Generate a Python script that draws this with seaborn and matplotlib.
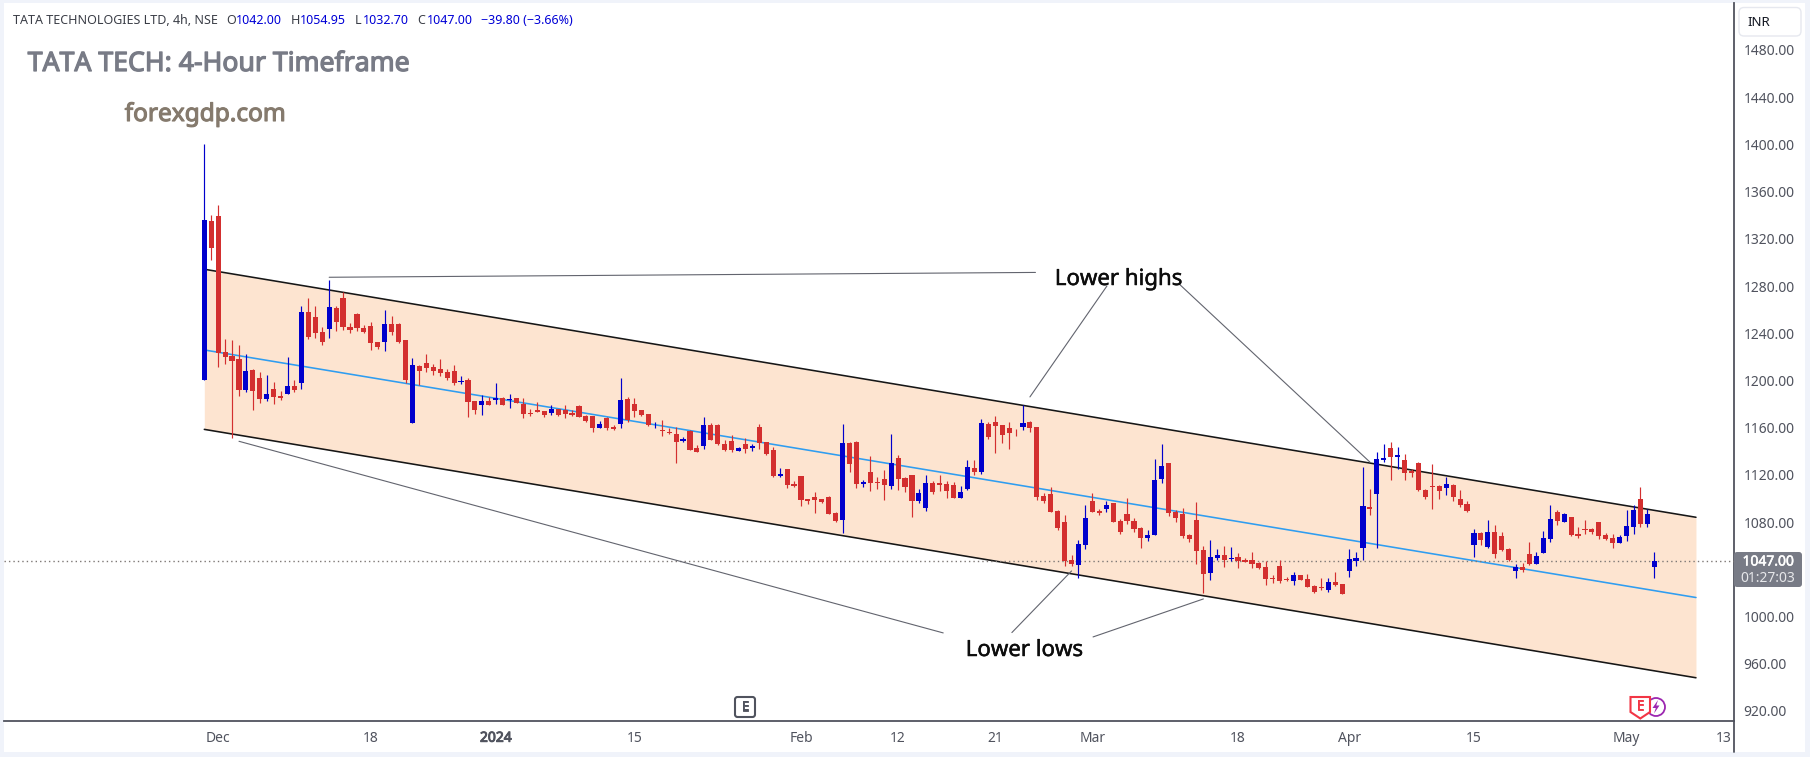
import numpy as np
import pandas as pd
import matplotlib
matplotlib.use("Agg")
import matplotlib.pyplot as plt
import matplotlib.patheffects as pe
import seaborn as sns
from matplotlib.lines import Line2D
from matplotlib.patches import FancyBboxPatch, Rectangle, Polygon, Circle
from matplotlib.transforms import Affine2D

highs = [1400,1340,1349,1235,1234,1230,1222,1210,1207,1204.6,
1198.6,1191,1220,1200,1263,1270,1263,1245,1285,1263,
1275,1248.6,1257,1247,1249.5,1232.5,1259.6,1254.6,1248.6,1234,
1219,1213,1222,1214,1218,1209.6,1213,1203.7,1202,1182.5,
1187.6,1186,1197.8,1186,1188.5,1185,1185,1175.8,1181.7,1174,
1179,1175.8,1179,1175,1179,1170.7,1170,1165.6,1169,1162.2,
1202,1186,1185,1175,1171.5,1164.8,1166.5,1159.7,1160.5,1152,
1158,1145.3,1169,1163.9,1163,1149.5,1153.7,1143.6,1151,1146,
1163,1147.8,1143.6,1125.8,1125,1114.8,1119,1099.5,1105.4,1099.5,
1102,1088.5,1163,1147.8,1148.7,1115.6,1136,1118,1124,1154.6,
1136.8,1118,1119.8,1108,1119.8,1114.8,1119.8,1114.8,1113.9,1110.5,
1132.6,1132.6,1167.3,1164.8,1169.8,1162.2,1164.8,1158.8,1179.2,1165.6,
1160.5,1104.6,1109.7,1090.2,1085.9,1052,1064.8,1094.4,1104.6,1091,
1097.8,1096,1082.6,1100.3,1083.4,1075.8,1073.2,1133.4,1146.1,1130,
1090.2,1091.9,1069.8,1097,1059.7,1064.8,1057,1059.7,1058.8,1053.7,
1049.5,1054.6,1046,1046.9,1035,1047.8,1033.4,1037.6,1035,1035.9,
1026.6,1032.5,1032.5,1037.6,1027.5,1057,1055,1126.6,1108,1139.3,
1146.1,1147.8,1143.6,1137.6,1125,1130.9,1108,1129.2,1111.4,1118.2,
1112.2,1107.2,1097.8,1074,1071.6,1081.7,1077.5,1071.6,1058,1044.4,
1045.3,1063,1054.6,1072.4,1094.4,1090.2,1087.7,1084.3,1075.8,1081.7,
1075,1080,1070.7,1069.9,1069,1090.2,1094.4,1109.7,1091,1054.95]

lows = [1200,1302,1211.3,1214,1151.2,1187,1190,1175,1181,1182.5,
1180,1183,1188.5,1190,1193,1235,1236,1230,1236,1242,
1243,1240,1242,1240,1226,1226.6,1225,1238.5,1231.7,1197.8,
1164,1196,1207,1204.6,1203.7,1200.3,1196,1197,1169,1171.5,
1170.7,1179,1180,1179,1176.6,1181,1168,1170,1173.2,1169,
1170.7,1169.8,1168,1169.8,1169,1164.7,1156.3,1159.7,1158,1158,
1159.7,1164.7,1169,1170,1161.4,1159.7,1152.9,1154.6,1130,1147.8,
1141,1139.3,1141.9,1149.5,1145.3,1140,1139.3,1140,1138.5,1140,
1141.9,1136.8,1118,1118,1108.8,1109.7,1093.6,1095.3,1087.6,1096,
1086.8,1080,1070.7,1122.4,1108.8,1109.7,1106.3,1108,1098.7,1108,
1107,1105.4,1084.2,1096,1089.3,1103.7,1106.3,1100.3,1100.3,1100.3,
1107,1119.8,1120.7,1150.4,1138.5,1147,1141.9,1152.9,1158,1156.3,
1098.7,1096,1088.5,1073.2,1042.7,1042.7,1032.6,1057,1088.5,1085.9,
1088.5,1080,1069.8,1078.3,1071.5,1058,1063.9,1069,1113,1085.1,
1080,1066.4,1063,1044.4,1019.8,1030.8,1047.8,1041.9,1047,1041,
1046,1041,1040.2,1026.6,1028.3,1028.3,1030,1026.6,1030.9,1024.9,
1019.8,1022.4,1020.7,1025.8,1019,1033.4,1042.7,1047.8,1085.9,1058,
1130.9,1115.6,1125,1115.6,1118.2,1106.3,1099.5,1091,1099.5,1103,
1097.8,1092.7,1088.5,1050.4,1060.5,1058,1049.5,1055.5,1047,1032.6,
1037.7,1043.6,1044.4,1053.8,1063,1077.5,1080,1068.2,1066.5,1069.9,
1069.9,1065.6,1064.8,1058,1062.2,1063.9,1069.9,1075.8,1075.8,1032.7]

opens = [1200,1335,1339.3,1224,1220.7,1218,1192,1209,1202,1184,
1192.7,1186.8,1188.5,1195,1198,1258,1254,1241,1243.6,1261,
1270,1245,1256,1244,1246,1232.5,1232.5,1247.8,1247.8,1234,
1164,1212,1215,1211.4,1209.6,1207,1208,1198.6,1200.3,1182.5,
1179,1182.5,1183.4,1185,1183.4,1185,1180,1172,1175,1174,
1172.4,1175.8,1175,1172.4,1178.3,1169.8,1170,1159.7,1168,1160.5,
1163,1184.2,1180,1175,1171.5,1162.8,1158,1156.3,1154.6,1148.7,
1157,1142.7,1144.4,1162.2,1162.2,1146,1148.7,1140,1146,1142.7,
1160.5,1147.8,1141,1119,1125,1112.2,1119,1099.5,1101,1099.5,
1101,1087.6,1081.7,1147,1147.8,1112.2,1122.4,1113.9,1116.5,1110.5,
1134.2,1117.3,1119.8,1097.8,1091.9,1113,1113,1112.2,1111.4,1100.3,
1108,1125.8,1122.4,1163,1164.8,1162.2,1159.7,1157.4,1160.5,1164.8,
1160.5,1102,1103.7,1089.3,1080,1047.8,1043.6,1060.5,1097.8,1089.3,
1091,1096,1080.9,1086.8,1080.9,1074.9,1066.4,1069,1116.5,1130,
1088.5,1086.8,1069,1081.7,1056.3,1036.8,1049.5,1052,1048.4,1050.3,
1047.8,1047.8,1045.3,1041.9,1032.5,1042.7,1031.7,1030,1035,1031.7,
1025.8,1024.9,1022.4,1029.2,1027.5,1038.5,1047,1058,1092.7,1103.7,
1132.6,1142.7,1135.4,1132.6,1123,1130,1107.2,1110.5,1110.5,1108.8,
1111.4,1099.5,1095.3,1060.5,1070.7,1058.8,1071.6,1068.2,1057.2,1038.5,
1041.9,1052.9,1044.4,1053.8,1065.6,1088.5,1080,1084.3,1069.9,1074.1,
1074.1,1080,1069,1066.5,1062.2,1068.2,1075.8,1099.5,1078.3,1042]

closes = [1336,1312.5,1223.5,1220,1216.4,1192,1208,1191,1184,1188.5,
1186,1185,1195,1192,1258,1237,1240,1232.5,1262,1249.5,
1245,1242.7,1244,1241,1232,1228,1247.8,1241,1232.5,1200,
1213,1208,1210.5,1208,1206,1202,1197.8,1199.5,1181.7,1175,
1182.5,1179,1185,1179,1184,1181,1171.5,1171.5,1173.2,1170.7,
1175.8,1170.7,1171.5,1170.7,1169,1165.6,1159.7,1163,1159.7,1158.8,
1183.4,1166.5,1174,1170.7,1162.2,1163.3,1157.4,1155.4,1147.8,1150.4,
1141,1139.3,1162.2,1149.5,1146,1141,1141,1142.7,1141.9,1144.4,
1147,1137.6,1119,1120.7,1111.4,1110.5,1098.7,1097.8,1098.7,1097,
1086.8,1080.9,1147,1129,1112,1113.9,1113,1113.3,1111.4,1130,
1116.5,1109.7,1097.8,1104.6,1113,1105.4,1111.4,1106.3,1100.3,1105.4,
1126.6,1122.4,1163.9,1152,1161.4,1153.7,1155.4,1156.8,1163.9,1159.7,
1101.2,1097.8,1088.5,1074.9,1047,1044.4,1061.4,1083.4,1088.5,1087.6,
1094.4,1080,1071.5,1080.9,1074.1,1066.4,1069,1115.6,1127.5,1087.6,
1083.4,1068.1,1065.6,1055.4,1036,1050.3,1052,1047.8,1049.5,1047,
1046,1044.4,1041,1031.7,1031.7,1030,1030.9,1035,1030.9,1024.9,
1020.7,1024,1029.2,1026.6,1019,1048.7,1049.5,1093.6,1091,1133.4,
1134.2,1135,1136.8,1121.6,1121.8,1107.2,1101.2,1109.7,1106.3,1112.2,
1101.2,1094.4,1089.4,1070.7,1064.8,1071.6,1052.9,1056.3,1047.8,1041.9,
1039.4,1044.4,1051.2,1066.5,1082.6,1080.9,1086.8,1069,1068.2,1073.3,
1071.6,1068.2,1065.6,1062.2,1067.3,1076.6,1090.2,1078.3,1086.8,1047]

# 1040 is hidden behind the last-price tag in the reference
price_ticks = [920, 960, 1000, 1080, 1120, 1160, 1200, 1240, 1280, 1320, 1360, 1400, 1440, 1480]
date_labels = ["Dec", "18", "2024", "15", "Feb", "12", "21", "Mar", "18", "Apr", "15", "May", "13"]
date_index = [2, 24, 42, 62, 86, 100, 114, 128, 149, 165, 183, 205, 219]

channel_index = [0, 215]
channel_upper = [1294.2, 1084]
channel_middle = [1225.8, 1016]
channel_lower = [1158.5, 948]

# (index, price) pairs of the call-out lines
callouts = [((18.0, 119.8), (1287.4, 1291.5)),
            ((130.1, 119.0), (1280, 1186)),
            ((140.4, 168.0), (1282.3, 1130.8)),
            ((5.0, 106.5), (1148.4, 986)),
            ((116.4, 125.0), (986.3, 1038.5)),
            ((128.1, 144.0), (982.6, 1014.8))]
last_price = 1047.0

W, H = 1810, 757
UP, DOWN = "#0000cc", "#d32f2f"
GREY = "#787b86"
AXIS = "#50535e"

sns.set_theme(style="white")
plt.rcParams["font.family"] = ["Noto Sans", "DejaVu Sans"]

fig = plt.figure(figsize=(W / 100, H / 100), dpi=100, facecolor="#f0f3fa")
px = Affine2D().scale(1 / W, -1 / H).translate(0, 1) + fig.transFigure

L, R, T, B = 4, 1734, 3, 721
ax = fig.add_axes([L / W, 1 - B / H, (R - L) / W, (B - T) / H])
fig.add_artist(Rectangle((4, 3), 1801, 749, transform=px, fc="white", ec="none", zorder=-1))

ax.set_xlim((L - 204.3) / 6.938, (R - 204.3) / 6.938)
ax.set_ylim(1480 - (B - 50) / 1.18, 1480 - (T - 50) / 1.18)
ax.set_facecolor("white")
ax.grid(False)

df = pd.DataFrame({"i": np.arange(len(opens)), "o": opens, "h": highs, "l": lows, "c": closes})
df["top"] = df[["o", "c"]].max(axis=1)
df["bot"] = df[["o", "c"]].min(axis=1)
df["col"] = np.where(df["c"] > df["o"], UP, DOWN)

# channel
ax.fill_between(channel_index, channel_lower, channel_upper, color="#fde4d0", lw=0, zorder=1)
chan = pd.DataFrame({"i": channel_index * 3,
                     "p": channel_upper + channel_lower + channel_middle,
                     "k": ["u"] * 2 + ["l"] * 2 + ["m"] * 2})
sns.lineplot(data=chan, x="i", y="p", hue="k", palette={"u": "#161616", "l": "#161616", "m": "#2f9df0"},
             hue_order=["u", "l", "m"], legend=False, lw=1.15, ax=ax, zorder=2, estimator=None)
ax.axhline(last_price, color="#7d7775", lw=1, ls=(0, (1, 2.2)), zorder=3)

# candles
ax.vlines(df["i"], df["l"], df["h"], colors=df["col"], lw=0.85, zorder=4)
ax.bar(df["i"], df["top"] - df["bot"], bottom=df["bot"], width=0.74, color=df["col"], lw=0, zorder=5)

# call-outs
for xs, ys in callouts:
    ax.plot(xs, ys, color="#62646e", lw=0.8, zorder=3)

# axes
ax.set_xlabel("")
ax.set_ylabel("")
ax.yaxis.tick_right()
ax.set_yticks(price_ticks)
ax.set_yticklabels([f"{v:.2f}" for v in price_ticks])
ax.set_xticks(date_index)
ax.set_xticklabels(date_labels)
ax.tick_params(axis="both", length=0, labelcolor=AXIS, labelsize=10)
ax.tick_params(axis="y", pad=7)
ax.tick_params(axis="x", pad=7)
bold_tick = ax.get_xticklabels()[2]
bold_tick.set_path_effects([pe.withStroke(linewidth=0.7, foreground=AXIS)])
for s in ("left", "top"):
    ax.spines[s].set_visible(False)
for s in ("right", "bottom"):
    ax.spines[s].set_color(AXIS)
    ax.spines[s].set_linewidth(1.3)
fig.add_artist(Line2D([1734, 1734], [721, 752], transform=px, color=AXIS, lw=1.3))


def txt(x, y, s, size, color, heavy=0, **kw):
    kw.setdefault("va", "center")
    kw.setdefault("ha", "left")
    t = fig.text(x, y, s, transform=px, fontsize=size, color=color, **kw)
    if heavy:
        t.set_path_effects([pe.withStroke(linewidth=heavy, foreground=color)])
    return t


# legend line
DARK = "#3a3d46"
BLUE = "#0000d6"
txt(13, 21, "TATA TECHNOLOGIES LTD, 4h, NSE", 9.0, DARK)
for x, s in [(226, "O"), (291, "H"), (355, "L"), (417, "C")]:
    txt(x, 21, s, 9.0, DARK)
for x, s in [(236, "1042.00"), (300, "1054.95"), (363, "1032.70"), (427, "1047.00"), (481, "−39.80 (−3.66%)")]:
    txt(x, 21, s, 9.0, BLUE)

# headline texts
txt(27.7, 64, "TATA TECH: 4-Hour Timeframe", 19.2, GREY, heavy=0.9)
txt(124.7, 115, "forexgdp.com", 17.6, "#857a6d", heavy=0.8)
txt(1118.5, 285, "Lower highs", 16, "#0d0d0d", heavy=0.35, va="baseline", ha="center")
txt(1024.5, 656, "Lower lows", 16, "#0d0d0d", heavy=0.35, va="baseline", ha="center")

# price tag
fig.add_artist(FancyBboxPatch((1734, 552), 68, 35, boxstyle="round,pad=0,rounding_size=3",
                              transform=px, fc=GREY, ec="none", zorder=5))
txt(1768, 562, "1047.00", 10, "white", heavy=0.4, ha="center", zorder=6)
txt(1768, 578, "01:27:03", 10, "#e6e7ea", ha="center", zorder=6)

# currency button
fig.add_artist(FancyBboxPatch((1739, 7.5), 62, 28.5, boxstyle="round,pad=0,rounding_size=5",
                              transform=px, fc="white", ec="#e6e8ef", lw=1, zorder=5))
txt(1759, 22, "INR", 9.6, "#131722", ha="center", zorder=6)

# event markers
fig.add_artist(FancyBboxPatch((735, 697), 20, 20, boxstyle="round,pad=0,rounding_size=2.5",
                              transform=px, fc="white", ec=AXIS, lw=1.5, zorder=5))
txt(745, 707, "E", 9.5, AXIS, heavy=0.6, ha="center", zorder=6)
fig.add_artist(Circle((1656, 707), 9, transform=px, fc="white", ec="#9c27b0", lw=1.3, zorder=5))
fig.add_artist(Polygon([(1658, 700), (1652.5, 708), (1655.8, 708), (1654, 713.5), (1659.5, 705.5), (1656.3, 705.5)],
                       closed=True, transform=px, fc="#9c27b0", ec="none", zorder=6))
fig.add_artist(Polygon([(1630.5, 697), (1650, 697), (1650, 712), (1640.3, 718.5), (1630.5, 712)], closed=True,
                       transform=px, fc="white", ec="#f23645", lw=1.5, zorder=7))
txt(1640.3, 706.5, "E", 10, "#f23645", heavy=0.6, ha="center", zorder=8)

fig.savefig("out.png", dpi=100, facecolor=fig.get_facecolor())
